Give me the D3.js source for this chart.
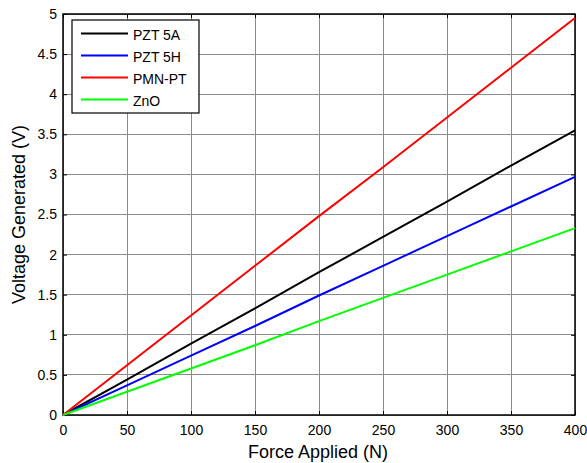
<!DOCTYPE html>
<html><head><meta charset="utf-8">
<script src="https://cdn.jsdelivr.net/npm/d3@7"></script>
<style>body{margin:0;background:#fff}svg{display:block}text{font-family:"Liberation Sans",Arial,sans-serif}</style>
</head><body><svg id="c" width="587" height="463"></svg>
<script>
const force = [0, 50, 100, 150, 200, 250, 300, 350, 400];
const pzt5a = [0, 0.44, 0.89, 1.33, 1.78, 2.22, 2.66, 3.11, 3.55];
const pzt5h = [0, 0.37, 0.74, 1.11, 1.49, 1.86, 2.23, 2.60, 2.97];
const pmnpt = [0, 0.62, 1.24, 1.86, 2.48, 3.09, 3.71, 4.33, 4.95];
const zno   = [0, 0.29, 0.58, 0.87, 1.17, 1.46, 1.75, 2.04, 2.33];
const seriesNames = ["PZT 5A", "PZT 5H", "PMN-PT", "ZnO"];
const seriesColors = ["#000000", "#0000ff", "#ff0000", "#00ff00"];
const xTicks = [0, 50, 100, 150, 200, 250, 300, 350, 400];
const yTicks = [0, 0.5, 1, 1.5, 2, 2.5, 3, 3.5, 4, 4.5, 5];
const series = [pzt5a, pzt5h, pmnpt, zno];

const L = 63, R = 575, T = 14, B = 415;
const x = d3.scaleLinear().domain([0, 400]).range([L, R]);
const y = d3.scaleLinear().domain([0, 5]).range([B, T]);
const svg = d3.select("#c");
const FF = '"Liberation Sans",Arial,sans-serif';

// grid
svg.append("g").selectAll("line").data(xTicks).join("line")
  .attr("x1", d => x(d)).attr("x2", d => x(d)).attr("y1", T).attr("y2", B)
  .attr("stroke", "#8c8c8c").attr("stroke-width", 1).attr("shape-rendering","crispEdges");
svg.append("g").selectAll("line").data(yTicks).join("line")
  .attr("y1", d => y(d)).attr("y2", d => y(d)).attr("x1", L).attr("x2", R)
  .attr("stroke", "#8c8c8c").attr("stroke-width", 1).attr("shape-rendering","crispEdges");

// axes
const fmt = d => String(d);
svg.append("g").attr("transform", `translate(0,${B})`)
  .call(d3.axisBottom(x).tickValues(xTicks).tickFormat(fmt).tickSizeInner(-4).tickSizeOuter(0).tickPadding(10))
  .call(g => { g.select(".domain").remove(); g.selectAll("text").attr("font-size", 14).attr("fill","#000").style("font-family",FF); g.selectAll("line").attr("stroke","#000"); });
svg.append("g").attr("transform", `translate(0,${T})`)
  .call(d3.axisTop(x).tickValues(xTicks).tickFormat("").tickSizeInner(-4).tickSizeOuter(0))
  .call(g => { g.select(".domain").remove(); g.selectAll("line").attr("stroke","#000"); });
svg.append("g").attr("transform", `translate(${L},0)`)
  .call(d3.axisLeft(y).tickValues(yTicks).tickFormat(fmt).tickSizeInner(-4).tickSizeOuter(0).tickPadding(6))
  .call(g => { g.select(".domain").remove(); g.selectAll("text").attr("font-size", 14).attr("fill","#000").style("font-family",FF); g.selectAll("line").attr("stroke","#000"); });
svg.append("g").attr("transform", `translate(${R},0)`)
  .call(d3.axisRight(y).tickValues(yTicks).tickFormat("").tickSizeInner(-4).tickSizeOuter(0))
  .call(g => { g.select(".domain").remove(); g.selectAll("line").attr("stroke","#000"); });

// box
svg.append("rect").attr("x", L).attr("y", T).attr("width", R - L).attr("height", B - T)
  .attr("fill", "none").attr("stroke", "#000").attr("stroke-width", 1.5);

// lines
const line = d3.line().x((d, i) => x(force[i])).y(d => y(d));
series.forEach((s, k) => {
  svg.append("path").datum(s).attr("d", line).attr("fill", "none")
    .attr("stroke", seriesColors[k]).attr("stroke-width", 2);
});

// legend
const lg = svg.append("g");
lg.append("rect").attr("x", 72).attr("y", 20).attr("width", 127).attr("height", 93)
  .attr("fill", "#fff").attr("stroke", "#000").attr("stroke-width", 1.2);
seriesNames.forEach((n, k) => {
  const yy = 33.4 + k * 22;
  lg.append("line").attr("x1", 81).attr("x2", 128).attr("y1", yy).attr("y2", yy)
    .attr("stroke", seriesColors[k]).attr("stroke-width", 2);
  lg.append("text").attr("x", 133).attr("y", yy + 6.5).attr("font-size", 14).text(n);
});

// labels
svg.append("text").attr("x", 318).attr("y", 458).attr("text-anchor", "middle")
  .attr("font-size", 18).text("Force Applied (N)");
svg.append("text").attr("transform", `translate(25,${(T + B) / 2}) rotate(-90)`).attr("text-anchor", "middle")
  .attr("font-size", 18).text("Voltage Generated (V)");
</script></body></html>
